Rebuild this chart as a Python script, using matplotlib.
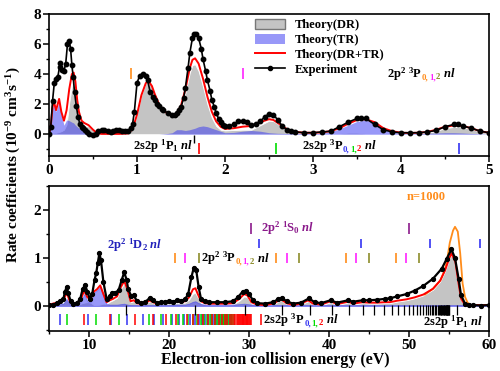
import matplotlib
matplotlib.use('Agg')
import matplotlib.pyplot as plt
import matplotlib.transforms as mtransforms
from matplotlib.ticker import MultipleLocator
from matplotlib.patches import Patch
from matplotlib.lines import Line2D
import numpy as np

plt.rcParams['font.family'] = 'Liberation Serif'
plt.rcParams['font.weight'] = 'bold'
plt.rcParams['mathtext.fontset'] = 'custom'
plt.rcParams['mathtext.rm'] = 'Liberation Serif:bold'
plt.rcParams['mathtext.it'] = 'Liberation Serif:italic:bold'
plt.rcParams['mathtext.bf'] = 'Liberation Serif:bold'
plt.rcParams['axes.linewidth'] = 1.2

# ---------------- top panel (0-5 eV) ----------------
e_top = [0, 0.02, 0.04, 0.055, 0.08, 0.115, 0.14, 0.17, 0.2, 0.23,
         0.26, 0.28, 0.3, 0.32, 0.34, 0.37, 0.4, 0.45, 0.5, 0.55,
         0.6, 0.7, 0.8, 0.9, 0.95, 1.0, 1.05, 1.1, 1.13, 1.17,
         1.2, 1.25, 1.3, 1.35, 1.4, 1.45, 1.5, 1.55, 1.6, 1.63,
         1.66, 1.7, 1.75, 1.8, 1.85, 1.9, 1.95, 2.0, 2.1, 2.2,
         2.3, 2.4, 2.5, 2.55, 2.6, 2.7, 2.8, 2.9, 3.0, 3.1,
         3.2, 3.3, 3.4, 3.5, 3.6, 3.7, 3.8, 3.9, 4.0, 4.1,
         4.2, 4.3, 4.4, 4.5, 4.6, 4.7, 4.8, 4.9, 5.0]
dr_top = [0, 0, 0.05, 0.1, 0.1, 0.15, 0.2, 0.3, 0.65, 2.1,
          3.2, 3.35, 2.9, 1.8, 1.1, 0.6, 0.55, 0.52, 0.28, 0.05,
          0.02, 0.02, 0.02, 0.05, 0.35, 1.3, 2.6, 3.4, 3.55, 3.2,
          2.7, 2.0, 1.58, 1.3, 1.15, 1.1, 1.6, 2.75, 4.1, 4.6,
          4.65, 4.2, 3.15, 2.0, 1.1, 0.55, 0.3, 0.25, 0.28, 0.3,
          0.3, 0.6, 0.9, 0.87, 0.69, 0.3, 0.1, 0.05, 0.05, 0.05,
          0.05, 0.05, 0.1, 0.1, 0.05, 0.05, 0.05, 0.05, 0.05, 0.05,
          0.05, 0.1, 0.22, 0.4, 0.48, 0.47, 0.35, 0.17, 0.1]
tr_top = [0, 0.5, 1.75, 2.1, 1.5, 2.2, 1.3, 0.6, 0.95, 0.9,
          0.8, 0.75, 0.6, 0.5, 0.4, 0.3, 0.2, 0.08, 0.02, 0,
          0, 0, 0, 0, 0, 0, 0, 0, 0, 0,
          0, 0, 0.02, 0.05, 0.1, 0.3, 0.3, 0.25, 0.3, 0.35,
          0.4, 0.5, 0.55, 0.5, 0.4, 0.3, 0.2, 0.1, 0.12, 0.2,
          0.25, 0.2, 0.1, 0.08, 0.06, 0.05, 0.05, 0.05, 0.05, 0.07,
          0.15, 0.35, 0.6, 0.85, 0.95, 0.75, 0.35, 0.15, 0.05, 0.03,
          0.05, 0.05, 0.08, 0.1, 0.1, 0.08, 0.05, 0.03, 0.0]

exp_top_e = [0.0, 0.02, 0.04, 0.06, 0.08, 0.1, 0.12, 0.13, 0.15, 0.17,
             0.19, 0.21, 0.23, 0.245, 0.26, 0.275, 0.29, 0.31, 0.33, 0.35,
             0.37, 0.39, 0.41, 0.43, 0.46, 0.5, 0.53, 0.56, 0.6, 0.63,
             0.67, 0.7, 0.73, 0.76, 0.8, 0.83, 0.86, 0.9, 0.93, 0.95,
             0.97, 1.0, 1.03, 1.07, 1.1, 1.12, 1.15, 1.18, 1.2, 1.23,
             1.25, 1.28, 1.3, 1.35, 1.4, 1.43, 1.45, 1.48, 1.5, 1.53,
             1.55, 1.58, 1.6, 1.63, 1.65, 1.67, 1.7, 1.73, 1.75, 1.78,
             1.8, 1.83, 1.85, 1.88, 1.9, 1.93, 1.95, 1.98, 2.0, 2.05,
             2.1, 2.15, 2.2, 2.25, 2.3, 2.35, 2.4, 2.45, 2.5, 2.55,
             2.6, 2.65, 2.7, 2.75, 2.8, 2.9, 3.0, 3.1, 3.2, 3.3,
             3.4, 3.5, 3.55, 3.6, 3.7, 3.8, 3.9, 4.0, 4.1, 4.2,
             4.3, 4.4, 4.5, 4.6, 4.65, 4.7, 4.8, 4.9, 5.0]
exp_top_v = [0.0, 0.5, 2.2, 3.4, 3.7, 3.8, 4.5, 4.75, 4.3, 4.2,
             4.7, 6.0, 6.2, 5.7, 4.6, 3.8, 2.8, 1.9, 1.15, 0.7,
             0.5, 0.4, 0.25, 0.15, 0.02, -0.05, 0.0, 0.2, 0.3, 0.25,
             0.2, 0.15, 0.2, 0.25, 0.25, 0.2, 0.2, 0.2, 0.4, 0.7,
             1.5, 3.4, 3.9, 4.0, 3.9, 3.6, 2.8, 2.5, 2.3, 2.0,
             1.85, 1.7, 1.6, 1.4, 1.25, 1.3, 1.4, 1.6, 1.8, 2.4,
             3.1, 4.4, 5.4, 6.4, 6.7, 6.7, 6.4, 5.7, 5.0, 4.2,
             3.6, 2.9, 2.3, 1.8, 1.4, 1.0, 0.8, 0.6, 0.55, 0.55,
             0.65, 0.85, 0.9, 0.8, 0.6, 0.7, 0.85, 1.15, 1.35, 1.3,
             0.95, 0.55, 0.3, 0.2, 0.15, 0.1, 0.1, 0.15, 0.2, 0.5,
             0.8, 1.05, 1.1, 1.05, 0.65, 0.3, 0.15, 0.1, 0.1, 0.1,
             0.15, 0.25, 0.5, 0.65, 0.65, 0.55, 0.4, 0.2, 0.1]

# ---------------- bottom panel (5-60 eV) ----------------
e_bot = [5.0, 5.5, 6.0, 6.4, 6.8, 7.2, 7.6, 8.0, 8.5, 9.0,
         9.4, 9.8, 10.2, 10.6, 11.0, 11.4, 11.8, 12.2, 12.6, 13.0,
         13.5, 14.0, 14.4, 14.8, 15.2, 15.6, 16.0, 16.5, 17.0, 17.6,
         18.0, 18.5, 19.0, 20.0, 21.0, 21.5, 22.0, 22.5, 23.0, 23.3,
         23.6, 24.0, 24.5, 25.0, 26.0, 27.0, 28.0, 28.8, 29.4, 29.8,
         30.3, 31.0, 32.0, 33.0, 34.0, 34.7, 35.5, 36.5, 37.4, 38.0,
         39.0, 40.2, 41.0, 42.4, 43.0, 44.2, 45.0, 46.0, 47.0, 47.6,
         48.5, 49.7, 50.7, 51.8, 53.0, 53.9, 54.5, 55.0, 55.3, 55.8,
         56.2, 56.5, 56.9, 57.5, 60.0]
dr_bot = [0.01, 0.03, 0.04, 0.04, 0.07, 0.13, 0.06, 0.02, 0.02, 0.05,
          0.07, 0.08, 0.07, 0.02, 0.02, 0.03, 0.05, 0.04, 0.09, 0.12,
          0.17, 0.36, 0.47, 0.32, 0.08, 0.1, 0.04, 0.02, 0.04, 0.1,
          0.06, 0.03, 0.04, 0.05, 0.06, 0.05, 0.07, 0.13, 0.26, 0.27,
          0.18, 0.06, 0.03, 0.02, 0.02, 0.02, 0.03, 0.11, 0.2, 0.18,
          0.05, 0.01, 0.0, 0.03, 0.12, 0.04, 0.0, 0.03, 0.1, 0.03,
          0.01, 0.08, 0.02, 0.07, 0.03, 0.06, 0.05, 0.05, 0.06, 0.06,
          0.09, 0.12, 0.16, 0.22, 0.34, 0.51, 0.72, 0.96, 1.08, 0.9,
          0.45, 0.14, 0.03, 0.0, 0.0]
tr_bot = [0.02, 0.02, 0.03, 0.06, 0.05, 0.15, 0.04, 0.02, 0.03, 0.1,
          0.25, 0.1, 0.08, 0.28, 0.33, 0.4, 0.2, 0.04, 0.03, 0.03,
          0.03, 0.04, 0.05, 0.03, 0.02, 0.02, 0.02, 0.02, 0.02, 0.02,
          0.02, 0.02, 0.02, 0.02, 0.03, 0.03, 0.03, 0.05, 0.09, 0.1,
          0.07, 0.04, 0.03, 0.03, 0.03, 0.03, 0.03, 0.04, 0.05, 0.04,
          0.03, 0.02, 0.02, 0.02, 0.02, 0.02, 0.02, 0.02, 0.02, 0.02,
          0.02, 0.02, 0.02, 0.02, 0.02, 0.02, 0.02, 0.02, 0.02, 0.02,
          0.02, 0.02, 0.02, 0.02, 0.02, 0.02, 0.02, 0.02, 0.02, 0.02,
          0.02, 0.02, 0.02, 0.02, 0.02]

exp_bot_e = [5.0, 5.5, 6.0, 6.4, 6.8, 7.0, 7.2, 7.4, 7.7, 8.0,
             8.5, 8.9, 9.2, 9.5, 9.8, 10.1, 10.4, 10.7, 10.9, 11.1,
             11.3, 11.5, 11.8, 12.2, 12.6, 12.9, 13.3, 13.7, 14.1, 14.4,
             14.7, 14.9, 15.3, 15.6, 16.0, 16.5, 17.0, 17.6, 18.0, 18.5,
             19.0, 19.5, 20.0, 20.5, 21.0, 21.5, 22.0, 22.4, 22.8, 23.1,
             23.4, 23.7, 24.0, 24.5, 25.0, 26.0, 27.0, 28.0, 28.6, 29.2,
             29.6, 30.0, 30.5, 31.0, 32.0, 33.0, 33.6, 34.1, 34.7, 35.5,
             36.5, 37.5, 38.2, 39.0, 40.2, 41.0, 42.4, 43.0, 44.2, 45.0,
             46.0, 47.0, 47.6, 48.5, 49.7, 50.7, 51.8, 53.0, 54.1, 54.7,
             55.3, 55.75, 56.2, 56.5, 57.0, 57.5, 58.0, 59.0, 60.0]
exp_bot_v = [0.02, 0.03, 0.06, 0.1, 0.15, 0.3, 0.4, 0.28, 0.1, 0.05,
             0.06, 0.15, 0.35, 0.44, 0.3, 0.15, 0.25, 0.55, 0.68, 0.9,
             1.1, 0.95, 0.5, 0.15, 0.2, 0.27, 0.28, 0.33, 0.55, 0.7,
             0.55, 0.35, 0.2, 0.22, 0.1, 0.06, 0.08, 0.17, 0.12, 0.07,
             0.08, 0.09, 0.1, 0.09, 0.12, 0.11, 0.14, 0.25, 0.6, 0.8,
             0.75, 0.4, 0.15, 0.1, 0.08, 0.08, 0.08, 0.1, 0.18, 0.3,
             0.32, 0.25, 0.12, 0.06, 0.05, 0.08, 0.14, 0.17, 0.1, 0.05,
             0.07, 0.16, 0.08, 0.06, 0.12, 0.07, 0.12, 0.09, 0.12, 0.12,
             0.13, 0.15, 0.16, 0.2, 0.25, 0.32, 0.42, 0.57, 0.78, 0.98,
             1.18, 1.0, 0.57, 0.23, 0.05, 0.02, 0.02, 0.01, 0.02]

n1000_e = [52.0, 53.0, 53.9, 54.5, 54.8, 55.1, 55.5, 55.75, 56.1, 56.4,
           56.7, 57.0, 57.3, 57.6, 58.0]
n1000_v = [0.24, 0.36, 0.53, 0.76, 1.0, 1.32, 1.57, 1.65, 1.55, 1.1,
           0.47, 0.19, 0.08, 0.02, 0.0]

# resonance position markers
top_orange = [0.93]
top_magenta = [2.2]
top_black = [1.65]
top_red = [1.70]
top_green = [2.58]
top_blue = [4.66]

bot_purple = [30.3, 49.95]
bot_blue_1d = [31.3, 44.0, 52.6, 58.9]
bot_orange = [20.7, 33.4, 42.1, 48.4]
bot_magenta = [22.0, 34.7, 43.4, 49.6]
bot_olive = [23.7, 36.3, 45.0, 51.3]
s3p_blue = [6.4, 9.9, 12.8, 14.8, 16.7, 18.1, 19.3, 20.4, 21.3, 21.9,
            22.6, 23.2, 23.7, 24.1, 24.5, 24.9, 25.2, 25.5, 25.8, 26.0,
            26.3, 26.5, 26.7, 26.9, 27.1, 27.3, 27.5, 27.7]
s3p_green = [7.3, 10.9, 13.7, 17.5, 19.0, 20.2, 21.1, 21.7, 22.4, 23.0,
             23.5, 24.0, 24.4, 24.8, 25.1, 25.4, 25.7, 26.0, 26.2, 26.5,
             26.7, 26.9, 27.1, 27.3, 27.5, 27.7, 27.9, 28.1]
s3p_red = [9.4, 12.6, 15.75, 18.0, 19.6, 20.9, 22.2, 23.0, 23.6, 24.3,
           24.9, 25.4, 25.8, 26.2, 26.6, 27.0, 27.3, 27.6, 27.9, 28.1,
           28.3, 28.45, 28.6, 28.75, 28.9, 29.0, 29.1, 29.2, 29.3, 29.4,
           29.5, 29.6, 29.7, 29.8, 29.9, 30.0, 30.1, 30.2, 31.5]
s1p_black = [14.59, 23.28, 29.50, 34.10, 37.60, 40.32, 42.48, 44.22, 45.65, 46.83,
             47.82, 48.66, 49.38, 49.99, 50.52, 50.99, 51.40, 51.76, 52.08, 52.36,
             52.62, 52.85, 53.06, 53.24, 53.41, 53.57, 53.71, 53.84, 53.96, 54.06,
             54.16, 54.26, 54.34, 54.42, 54.50, 54.57, 54.63, 54.69, 54.75, 54.80,
             54.85, 54.90, 54.94, 54.98, 56.0]

GRAY = '#c4c4c4'
BLUE = (0.2, 0.2, 0.95)
GREEN = '#00dd00'
ORANGE = '#ff8c1a'
MAGENTA = '#ff22ff'
OLIVE = '#8c8c2a'
PURPLE = '#8b1a8b'


def multicolor(ax, x, y, pieces, size=9):
    # draw text pieces one after another on a common baseline
    fig = ax.figure
    renderer = fig.canvas.get_renderer()
    dx = 0.0
    for s, c, sub in pieces:
        fs = size * 0.7 if sub else size
        dy = -2.0 if sub else 0.0
        tr = mtransforms.offset_copy(ax.transData, fig=fig, x=dx, y=dy, units='dots')
        t = ax.text(x, y, s, color=c, fontsize=fs, transform=tr,
                    ha='left', va='baseline', fontweight='bold')
        dx += t.get_window_extent(renderer).width


fig = plt.figure(figsize=(5, 3.71), dpi=100)
ax1 = fig.add_axes([0.098, 0.5795, 0.88, 0.3828])
ax2 = fig.add_axes([0.098, 0.1078, 0.88, 0.3909])

# top panel
dr = np.array(dr_top)
tr = np.array(tr_top)
ax1.fill_between(e_top, 0, dr, color=GRAY, edgecolor='white', lw=0.6, zorder=1)
ax1.fill_between(e_top, 0, tr, color=BLUE, alpha=0.5, lw=0, zorder=2)
ax1.plot(e_top, dr + tr, color='red', lw=1.4, zorder=3)
ax1.plot(exp_top_e, exp_top_v, color='black', lw=1.2, marker='o', ms=3.2, zorder=4)

ax1.vlines(top_orange, 3.7, 4.4, colors=ORANGE, lw=1.2)
ax1.vlines(top_magenta, 3.7, 4.4, colors=MAGENTA, lw=1.2)
ax1.vlines(top_black, -0.05, -0.6, colors='black', lw=1.0)
ax1.vlines(top_red, -0.6, -1.3, colors='red', lw=1.2)
ax1.vlines(top_green, -0.6, -1.3, colors=GREEN, lw=1.2)
ax1.vlines(top_blue, -0.6, -1.3, colors=BLUE, lw=1.2)

ax1.set_xlim(0, 5)
ax1.set_ylim(-1.45, 8)
ax1.set_xticks([0, 1, 2, 3, 4, 5])
ax1.set_yticks([0, 2, 4, 6, 8])
ax1.xaxis.set_minor_locator(MultipleLocator(0.5))
ax1.yaxis.set_minor_locator(MultipleLocator(1))

handles = [Patch(facecolor=GRAY, edgecolor='#777777', lw=1.0),
           Patch(facecolor=BLUE, alpha=0.5, edgecolor='none'),
           Line2D([], [], color='red', lw=1.4),
           Line2D([], [], color='black', lw=1.2, marker='o', ms=3)]
ax1.legend(handles, ['Theory(DR)', 'Theory(TR)', 'Theory(DR+TR)', 'Experiment'],
           loc='upper left', bbox_to_anchor=(0.45, 1.02), frameon=False,
           fontsize=9, handlelength=2.4, handleheight=0.9, labelspacing=0.2,
           borderaxespad=0.2)

# bottom panel
drb = np.array(dr_bot)
trb = np.array(tr_bot)
ax2.fill_between(e_bot, 0, drb, color=GRAY, edgecolor='white', lw=0.5, zorder=1)
ax2.fill_between(e_bot, 0, trb, color=BLUE, alpha=0.5, edgecolor=BLUE, lw=0.6, zorder=2)
ax2.plot(n1000_e, n1000_v, color=ORANGE, lw=1.3, zorder=3)
ax2.plot(e_bot, drb + trb, color='red', lw=1.4, zorder=4)
ax2.plot(exp_bot_e, exp_bot_v, color='black', lw=1.6, marker='o', ms=2.8, zorder=5)

ax2.vlines(bot_purple, 1.5, 1.72, colors=PURPLE, lw=1.2)
ax2.vlines(bot_blue_1d, 1.2, 1.4, colors=BLUE, lw=1.2)
ax2.vlines(bot_orange, 0.9, 1.1, colors=ORANGE, lw=1.2)
ax2.vlines(bot_magenta, 0.9, 1.1, colors=MAGENTA, lw=1.2)
ax2.vlines(bot_olive, 0.9, 1.1, colors=OLIVE, lw=1.2)
ax2.vlines(s3p_blue, -0.17, -0.4, colors=BLUE, lw=1.1)
ax2.vlines(s3p_green, -0.17, -0.4, colors=GREEN, lw=1.1)
ax2.vlines(s3p_red, -0.17, -0.4, colors='red', lw=1.1)
ax2.vlines(s1p_black, 0.02, -0.18, colors='black', lw=0.9)

ax2.set_xlim(5, 60)
ax2.set_ylim(-0.52, 2.5)
ax2.set_xticks([10, 20, 30, 40, 50, 60])
ax2.set_yticks([0, 1, 2])
ax2.xaxis.set_minor_locator(MultipleLocator(5))
ax2.yaxis.set_minor_locator(MultipleLocator(0.5))

for ax in (ax1, ax2):
    ax.tick_params(which='major', direction='out', length=4, width=1.1,
                   labelsize=11, pad=1.5)
    ax.tick_params(which='minor', direction='out', length=2.5, width=1.0)
    for lab in ax.get_xticklabels() + ax.get_yticklabels():
        lab.set_fontweight('bold')

# annotations
ax1.text(1.635, -1.0, r'2s2p $^1$P$_1$ $nl$', ha='right', va='baseline', fontsize=9)
multicolor(ax1, 2.87, -1.0, [(r'2s2p $^3$P', 'black', False), ('0,', BLUE, True),
                             ('1,', GREEN, True), ('2', 'red', True), (r' $nl$', 'black', False)])
multicolor(ax1, 3.84, 3.78, [(r'2p$^2$ $^3$P', 'black', False), ('0,', ORANGE, True),
                             ('1,', MAGENTA, True), ('2', OLIVE, True), (r' $nl$', 'black', False)])

ax2.text(49.7, 2.2, 'n=1000', color=ORANGE, fontsize=9, va='baseline')
ax2.text(31.5, 1.55, r'2p$^2$ $^1$S$_0$ $nl$', color=PURPLE, fontsize=9, va='baseline')
ax2.text(12.2, 1.2, r'2p$^2$ $^1$D$_2$ $nl$', color='#2222bb', fontsize=9, va='baseline')
multicolor(ax2, 23.95, 0.92, [(r'2p$^2$ $^3$P', 'black', False), ('0,', ORANGE, True),
                              ('1,', MAGENTA, True), ('2', OLIVE, True), (r' $nl$', 'black', False)])
multicolor(ax2, 31.8, -0.36, [(r'2s2p $^3$P', 'black', False), ('0,', BLUE, True),
                              ('1,', GREEN, True), ('2', 'red', True), (r' $nl$', 'black', False)])
ax2.text(51.7, -0.4, r'2s2p $^1$P$_1$ $nl$', ha='left', va='baseline', fontsize=9)

fig.text(0.028, 0.555, r'Rate coefficients (10$^{-9}$ cm$^{3}$s$^{-1}$)',
         rotation=90, ha='center', va='center', fontsize=11)
fig.text(0.55, 0.03, 'Electron-ion collision energy (eV)', ha='center', va='center',
         fontsize=11.5)

fig.savefig('out.png', dpi=100)
